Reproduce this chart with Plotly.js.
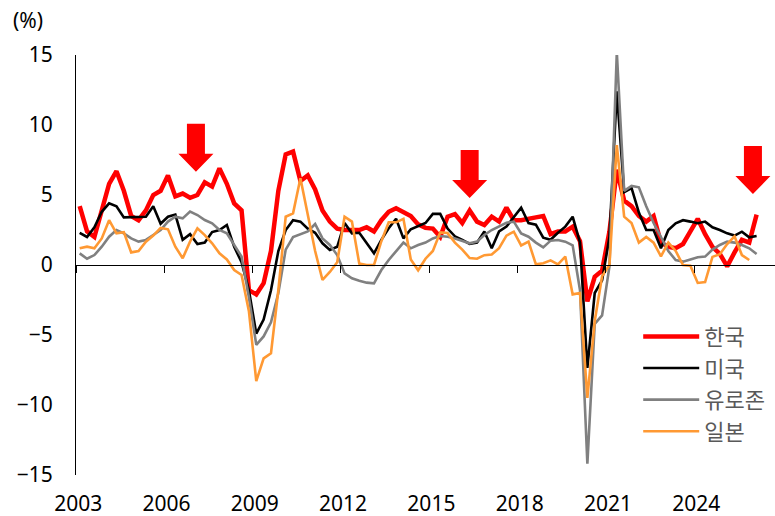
<!DOCTYPE html>
<html>
<head>
<meta charset="utf-8">
<script src="https://cdn.plot.ly/plotly-3.0.1.min.js"></script>
<style>html,body{margin:0;padding:0;background:#fff;}#chart{width:775px;height:516px;}</style>
</head>
<body>
<div id="chart"></div>
<script>
// Quarterly real GDP growth, YoY (%), 2003Q1 onward
const seriesNames = ['한국', '미국', '유로존', '일본'];
const korea = [4.2,2.4,2.0,3.8,5.8,6.7,5.3,3.5,3.2,3.9,5.0,5.3,6.4,4.9,5.1,4.8,5.0,5.9,5.6,6.9,5.8,4.4,3.9,-1.8,-2.1,-1.3,1.0,5.3,7.9,8.1,6.0,6.4,5.4,3.9,3.1,2.6,2.5,2.5,2.5,2.7,2.4,3.2,3.8,4.05,3.8,3.5,2.9,2.65,2.6,2.0,3.45,3.64,3.0,3.9,3.1,2.86,3.45,3.1,4.1,3.2,3.2,3.26,3.4,3.5,2.2,2.4,2.4,2.74,1.7,-2.6,-0.85,-0.4,2.4,6.8,4.6,4.2,3.5,3.1,3.5,1.6,1.3,1.2,1.5,2.4,3.3,2.2,1.3,0.8,-0.1,0.9,1.8,1.6,3.6];
const usa = [2.3,2.0,2.7,3.8,4.4,4.2,3.4,3.4,3.4,3.45,4.2,2.95,3.45,3.6,1.8,2.2,1.5,1.6,2.35,2.5,2.86,1.3,0.2,-1.8,-4.9,-3.9,-1.8,1.0,2.5,3.2,3.1,2.6,2.3,1.55,1.07,1.3,3.0,2.26,2.3,1.55,0.83,1.8,2.62,3.3,1.9,2.55,2.8,3.0,3.65,3.65,2.6,2.05,1.79,1.5,1.6,2.4,1.2,2.4,2.74,3.45,4.1,3.0,2.88,1.95,1.8,2.3,2.74,3.45,1.6,-7.35,-2.0,-1.1,2.0,12.4,5.2,5.5,3.75,2.5,2.5,1.2,2.5,2.98,3.2,3.1,2.98,3.1,2.69,2.5,2.26,2.1,2.38,1.98,2.07];
const euro = [0.83,0.45,0.71,1.31,2.02,2.5,2.26,1.9,1.67,1.79,2.14,2.5,3.1,3.45,3.33,3.81,3.57,3.21,2.98,2.5,2.26,1.43,0.6,-2.3,-5.7,-5.1,-4.1,-2.0,1.1,2.0,2.2,2.4,2.93,1.9,1.43,0.71,-0.6,-0.95,-1.12,-1.26,-1.31,-0.36,0.36,0.95,1.6,1.19,1.43,1.6,1.9,2.07,2.02,1.9,1.74,1.55,1.67,2.14,2.5,2.79,3.02,3.1,2.26,2.02,1.6,1.26,1.74,1.79,1.67,1.4,-1.8,-14.2,-4.2,-3.6,-0.1,15.2,5.3,5.65,5.55,4.2,3.0,2.0,1.0,0.35,0.24,0.4,0.55,0.6,1.1,1.43,1.67,1.6,1.43,1.19,0.79];
const japan = [1.19,1.31,1.19,1.9,3.2,2.26,2.35,0.9,1.0,1.67,2.1,2.65,2.55,1.31,0.48,1.67,2.62,2.14,1.55,0.83,0.4,-0.36,-0.71,-3.3,-8.3,-6.67,-6.3,-1.8,3.45,3.69,6.19,3.5,1.0,-1.07,-0.5,0.2,3.45,3.1,0.1,0.0,0.0,1.7,3.05,3.05,3.3,0.4,-0.38,0.45,1.0,2.33,2.28,1.6,1.1,0.5,0.45,0.7,0.75,1.2,2.1,2.38,1.4,1.67,0.05,0.12,0.33,0.05,0.6,-2.1,-2.0,-9.5,-4.0,-0.8,0.0,8.57,3.45,3.0,1.6,2.0,1.6,0.62,1.6,1.0,0.0,-0.05,-1.28,-1.22,0.58,0.77,1.5,2.05,0.71,0.36];
const yearLabels = ['2003','2006','2009','2012','2015','2018','2021','2024'];
const quartersPerLabel = 12;
const yTicks = [-15,-10,-5,0,5,10,15];
// red arrow markers: [quarter index, value at arrow tip]
const arrowQ = [15.8, 53.0, 91.5];
const arrowV = [6.66, 4.79, 5.07];

const idx = arr => arr.map((_, i) => i);
const colors = ['#FF0000', '#000000', '#808080', '#FF9933'];
const widths = [4.5, 2.6, 2.6, 2.6];
const all = [korea, usa, euro, japan];

const traces = all.map((vals, k) => ({
  type: 'scatter', mode: 'lines', name: seriesNames[k],
  x: idx(vals), y: vals,
  xaxis: k === 3 ? 'x2' : 'x', yaxis: 'y',
  line: {color: colors[k], width: widths[k]},
  hoverinfo: 'skip'
}));

const labelVals = yearLabels.map((_, k) => k * quartersPerLabel - 0.2);
const tickVals = yearLabels.map((_, k) => k * quartersPerLabel - 0.5);

const shapes = arrowQ.map((q, k) => ({
  type: 'path', xref: 'x', yref: 'y',
  xsizemode: 'pixel', ysizemode: 'pixel',
  xanchor: q, yanchor: arrowV[k],
  path: 'M0,0 L-17.5,18 L-9,18 L-9,48 L9,48 L9,18 L17.5,18 Z',
  fillcolor: '#FF0000', line: {width: 0}, layer: 'above'
}));

const layout = {
  width: 775, height: 516,
  margin: {l: 76, r: 0, t: 55, b: 41, pad: 0},
  paper_bgcolor: '#ffffff', plot_bgcolor: '#ffffff',
  font: {family: 'Noto Sans, sans-serif', size: 21, color: '#000'},
  showlegend: true,
  legend: {
    x: 0.8043, xanchor: 'left', y: 0.3795, yanchor: 'top',
    font: {family: '"Noto Sans CJK KR", sans-serif', size: 22, color: '#595959'},
    bgcolor: 'rgba(0,0,0,0)', itemwidth: 56, tracegroupgap: 0
  },
  xaxis: {
    range: [-0.5, 94.5], showgrid: false, zeroline: false, showline: false,
    tickmode: 'array', tickvals: labelVals, ticktext: yearLabels,
    ticks: '', ticklabelstandoff: 14,
    tickfont: {family: 'Noto Sans, sans-serif', size: 21, color: '#000'}
  },
  xaxis2: {
    overlaying: 'x', matches: 'x', anchor: 'free', position: 0.5,
    range: [-0.5, 94.5], showgrid: false, zeroline: false,
    showline: true, linecolor: '#000', linewidth: 1,
    tickmode: 'array', tickvals: tickVals, ticks: 'outside', ticklen: 7,
    tickcolor: '#000', tickwidth: 1, showticklabels: false
  },
  yaxis: {
    range: [-15, 15], tickmode: 'array', tickvals: yTicks,
    showgrid: false, zeroline: false, showline: true, linecolor: '#000', linewidth: 1,
    ticks: '', ticklabelstandoff: 18,
    tickfont: {family: 'Noto Sans, sans-serif', size: 21, color: '#000'}
  },
  annotations: [{
    text: '(%)', xref: 'paper', yref: 'paper', x: -0.068, y: 1.083,
    xanchor: 'center', yanchor: 'middle', showarrow: false,
    font: {family: 'Noto Sans, sans-serif', size: 21, color: '#000'}
  }],
  shapes: shapes
};

Plotly.newPlot('chart', traces, layout, {staticPlot: true, displayModeBar: false});
</script>
</body>
</html>
